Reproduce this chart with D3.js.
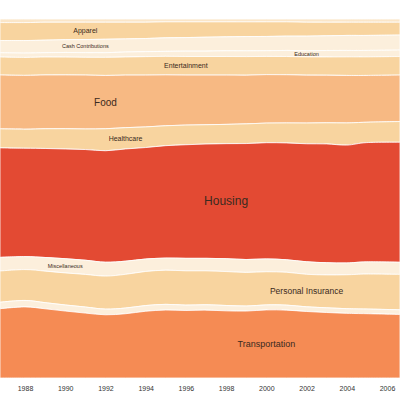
<!DOCTYPE html>
<html><head><meta charset="utf-8">
<script src="https://cdn.jsdelivr.net/npm/d3@7"></script>
<style>body{margin:0;background:#fff}text{font-family:"Liberation Sans",Arial,sans-serif}</style>
</head><body><div id="chart"></div>
<script>
// DATA (share of spending, %)
const years = d3.range(1987, 2007);
const categories = ["Alcoholic Beverages","Apparel","Cash Contributions","Education","Entertainment","Food","Healthcare","Housing","Miscellaneous","Personal Insurance","Reading","Transportation"];
const alcohol = [1.0,1.0,0.9,0.9,0.9,0.9,0.9,0.9,0.8,0.8,0.8,0.8,0.8,0.8,0.8,0.9,0.9,0.9,0.9,0.9];
const apparel = [5.0,5.0,5.0,4.9,4.9,4.8,4.7,4.6,4.5,4.4,4.3,4.2,4.1,4.1,4.0,3.9,3.8,3.7,3.7,3.6];
const cash = [3.4,3.5,3.5,3.6,3.7,3.8,3.7,3.7,3.8,3.8,3.9,3.9,4.0,4.0,4.0,4.1,4.1,4.2,4.2,4.2];
const education = [1.2,1.2,1.2,1.3,1.3,1.3,1.4,1.4,1.4,1.5,1.5,1.6,1.6,1.6,1.7,1.7,1.8,1.8,1.8,1.8];
const entertainment = [5.0,5.0,5.0,5.0,5.0,5.1,5.1,5.2,5.2,5.2,5.2,5.2,5.2,5.1,5.1,5.1,5.1,5.2,5.2,5.2];
const food = [15.0,15.0,15.0,15.1,15.2,15.0,14.8,14.6,14.3,14.0,13.9,13.8,13.6,13.6,13.5,13.4,13.3,13.3,13.1,13.0];
const healthcare = [5.3,5.3,5.5,5.7,5.8,6.2,6.0,5.8,5.6,5.5,5.4,5.4,5.5,5.5,5.6,5.8,5.9,6.2,5.7,5.8];
const housing = [30.5,30.2,30.4,30.8,31.2,31.4,31.6,31.4,31.6,31.8,32.0,32.2,32.4,32.6,32.7,33.0,33.2,33.0,33.4,33.6];
const misc = [3.8,3.6,3.8,4.0,4.0,3.9,3.7,3.5,3.4,3.5,3.5,3.6,3.6,3.6,3.5,3.5,3.4,3.3,3.4,3.4];
const insurance = [8.7,8.6,8.8,9.0,9.2,9.3,9.5,9.6,9.6,9.6,9.5,9.5,9.4,9.3,9.2,9.1,9.2,9.5,9.8,9.9];
const reading = [1.8,1.8,1.7,1.7,1.7,1.6,1.6,1.6,1.6,1.5,1.5,1.5,1.4,1.4,1.4,1.3,1.3,1.3,1.3,1.3];
const transportation = [19.3,19.8,19.3,18.8,18.3,17.8,18.1,18.8,19.1,18.9,19.0,18.8,18.7,19.1,19.0,18.6,18.3,18.1,18.0,17.8];
const series = [alcohol,apparel,cash,education,entertainment,food,healthcare,housing,misc,insurance,reading,transportation];
const colors = ["#fbe6c8","#f8d49f","#fcefdc","#fcefdc","#f8d49f","#f7b983","#f8d49f","#e34a33","#fcefdc","#f8d49f","#fcefdc","#f58b54"];
const tickYears = d3.range(1988, 2007, 2);
// label: [category index, year, font size]
const labels = [[1,1991,7],[2,1991,5.5],[3,2002,5.5],[4,1996,7],[5,1992,10],[6,1993,7],[7,1998,12],[8,1990,5.5],[9,2002,8.5],[11,2000,9]];

const W = 400, H = 400;
const table = years.map((y, i) => {
  const row = {year: y};
  categories.forEach((c, j) => row[c] = series[j][i]);
  return row;
});
const stack = d3.stack().keys(categories).order(d3.stackOrderNone).offset(d3.stackOffsetExpand);
const layers = stack(table);

const x = d3.scaleLinear().domain([1988, 2006]).range([25, 387]);
const y = d3.scaleLinear().domain([0, 1]).range([19, 378]);
const last = years.length - 1;
// the stream runs edge to edge of the page
const xa = (d, i) => i === 0 ? 0 : i === last ? W : x(d.data.year);

const svg = d3.select("#chart").append("svg").attr("width", W).attr("height", H);

const area = d3.area().x(xa).y0(d => y(d[0])).y1(d => y(d[1])).curve(d3.curveCardinal);
svg.append("g")
  .selectAll("path").data(layers).join("path")
  .attr("d", area)
  .attr("fill", (d, i) => colors[i])
  .attr("stroke", "#fff").attr("stroke-width", 0.8);

labels.forEach(([ci, yr, fs]) => {
  const p = layers[ci][years.indexOf(yr)];
  svg.append("text").attr("x", x(yr)).attr("y", y((p[0] + p[1]) / 2))
    .attr("text-anchor", "middle").attr("dominant-baseline", "central")
    .attr("font-size", fs).attr("fill", "#3a2a20").text(categories[ci]);
});

const axis = d3.axisBottom(x).tickValues(tickYears).tickFormat(d3.format("d")).tickSize(0).tickPadding(8);
const gx = svg.append("g").attr("transform", "translate(0,378)").call(axis);
gx.select(".domain").remove();
gx.selectAll("text").attr("font-size", 7).attr("fill", "#333");
</script></body></html>
